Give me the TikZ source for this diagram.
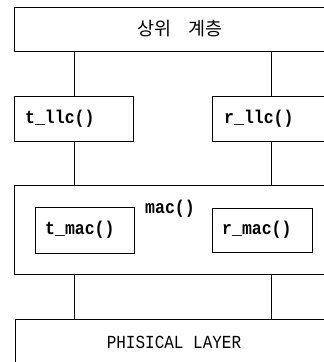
\documentclass[tikz,border=0pt]{standalone}
\usepackage{fontspec}
\setmonofont{Liberation Mono}
\newfontfamily\krfont{Noto Sans CJK KR}
\tikzset{
  box/.style={draw, line width=1pt, rectangle, inner sep=0pt, anchor=north west},
  lbl/.style={font=\fontsize{16.5}{18}\selectfont\ttfamily\bfseries, inner sep=0pt, yscale=1.12},
  conn/.style={line width=1pt}
}
\begin{document}
\begin{tikzpicture}[x=1pt,y=-1pt]
\useasboundingbox (0,0) rectangle (324,362);
\clip (0,0) rectangle (324,362);
% boxes
\node[box, minimum width=316pt, minimum height=44pt] (top) at (14,7) {};
\node[box, minimum width=119pt, minimum height=45pt] (tllc) at (14,96) {};
\node[box, minimum width=118pt, minimum height=45pt] (rllc) at (212,96) {};
\node[box, minimum width=316pt, minimum height=89pt] (mac) at (14,185) {};
\node[box, minimum width=99pt, minimum height=46pt] (tmac) at (35,207) {};
\node[box, minimum width=100pt, minimum height=44pt] (rmac) at (212,208) {};
\node[box, minimum width=315pt, minimum height=60pt] (phys) at (15,319) {};
% texts
\node[font=\fontsize{18.5}{20}\selectfont\krfont, inner sep=0pt] (toptxt) at (180,29) {상위\hspace{17pt}계층};
\node[lbl, anchor=west] (tllctxt) at (25,119) {t\_llc()};
\node[lbl, anchor=west] (rllctxt) at (224,119) {r\_llc()};
\node[lbl, anchor=west] (mactxt) at (145,209) {mac()};
\node[lbl, anchor=west] (tmactxt) at (45,230) {t\_mac()};
\node[lbl, anchor=west] (rmactxt) at (222,230) {r\_mac()};
\node[font=\fontsize{16}{18}\selectfont\ttfamily, inner sep=0pt, yscale=1.15] (phystxt) at (174,342) {PHISICAL LAYER};
% connectors
\draw[conn] (tllc.north) -- (tllc.north |- top.south);
\draw[conn] (rllc.north) -- (rllc.north |- top.south);
\draw[conn] (tllc.south) -- (tllc.south |- mac.north);
\draw[conn] (rllc.south) -- (rllc.south |- mac.north);
\draw[conn] (tllc.south |- mac.south) -- (tllc.south |- phys.north);
\draw[conn] (rllc.south |- mac.south) -- (rllc.south |- phys.north);
\end{tikzpicture}
\end{document}
